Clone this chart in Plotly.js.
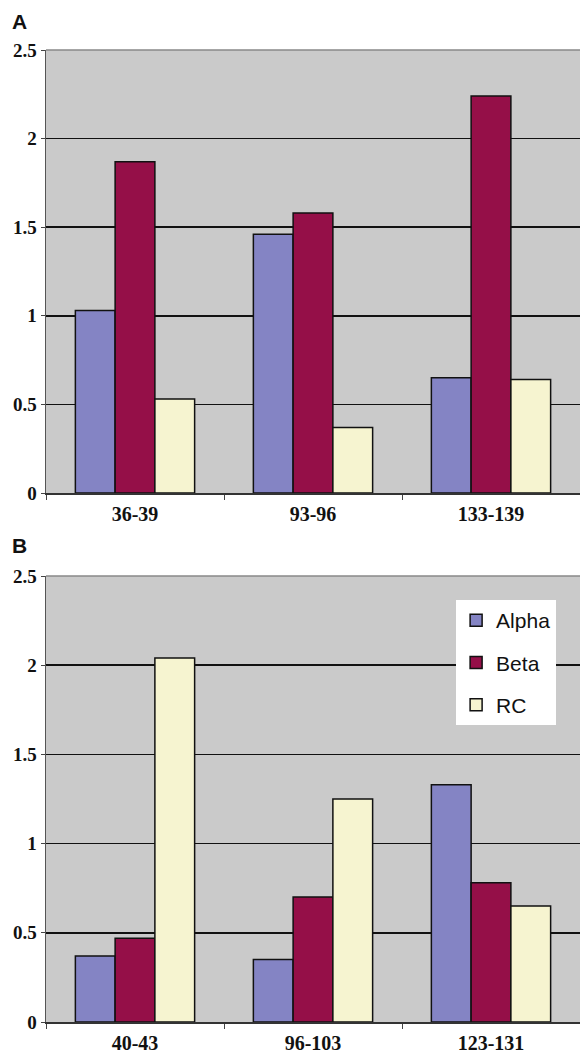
<!DOCTYPE html>
<html>
<head>
<meta charset="utf-8">
<script src="https://cdn.plot.ly/plotly-3.0.1.min.js"></script>
<style>html,body{margin:0;padding:0;background:#fff;}#chart{width:580px;height:1055px;}</style>
</head>
<body>
<div id="chart"></div>
<script>
const seriesNames = ["Alpha", "Beta", "RC"];
const seriesColors = ["#8484c4", "#950f48", "#f6f4d0"];

const categoriesA = ["36-39", "93-96", "133-139"];
const alphaA = [1.03, 1.46, 0.65];
const betaA = [1.87, 1.58, 2.24];
const rcA = [0.53, 0.37, 0.64];

const categoriesB = ["40-43", "96-103", "123-131"];
const alphaB = [0.37, 0.35, 1.33];
const betaB = [0.47, 0.70, 0.78];
const rcB = [2.04, 1.25, 0.65];

const yTickVals = [0, 0.5, 1, 1.5, 2, 2.5];
const yTickText = ["0", "0.5", "1", "1.5", "2", "2.5"];

const valsA = [alphaA, betaA, rcA];
const valsB = [alphaB, betaB, rcB];

const traces = [];
valsA.forEach((v, i) => traces.push({
  type: "bar", x: categoriesA, y: v, name: seriesNames[i],
  xaxis: "x", yaxis: "y", showlegend: false,
  marker: {color: seriesColors[i], line: {color: "#111", width: 1.5}},
  hoverinfo: "none"
}));
valsB.forEach((v, i) => traces.push({
  type: "bar", x: categoriesB, y: v, name: seriesNames[i],
  xaxis: "x2", yaxis: "y2", showlegend: true, legendgroup: "g" + i,
  marker: {color: seriesColors[i], line: {color: "#111", width: 1.5}},
  hoverinfo: "none"
}));

const yTickFont = {family: "Liberation Serif, Times New Roman, serif", size: 19, color: "#111", weight: "bold"};
const xTickFont = {family: "Liberation Serif, Times New Roman, serif", size: 20, color: "#111", weight: "bold"};

function xAxis(anchor) {
  return {
    anchor: anchor, domain: [0, 1], type: "category",
    tickson: "boundaries", ticks: "outside", ticklen: 5, tickcolor: "#444",
    showgrid: false, showline: true, linecolor: "#333", linewidth: 1.5,
    tickfont: xTickFont, ticklabelstandoff: 2, zeroline: false, fixedrange: true
  };
}
function yAxis(anchor, domain) {
  return {
    anchor: anchor, domain: domain, range: [0, 2.5],
    tickvals: yTickVals, ticktext: yTickText,
    ticks: "outside", ticklen: 4, tickcolor: "#444",
    showgrid: true, gridcolor: "#111", gridwidth: 1.5,
    showline: true, linecolor: "#555", linewidth: 1.5, mirror: false,
    zeroline: false, tickfont: yTickFont, fixedrange: true
  };
}

const layout = {
  width: 580, height: 1055,
  margin: {l: 46, r: 0, t: 0, b: 0},
  paper_bgcolor: "#ffffff",
  plot_bgcolor: "#cacaca",
  barmode: "group", bargap: 0.33, bargroupgap: 0,
  xaxis: xAxis("y"),
  yaxis: yAxis("x", [1 - 493/1055, 1 - 50/1055]),
  xaxis2: xAxis("y2"),
  yaxis2: yAxis("x2", [1 - 1022/1055, 1 - 576/1055]),
  showlegend: true,
  legend: {
    x: 0.768, y: 1 - 600/1055, xanchor: "left", yanchor: "top",
    bgcolor: "#ffffff", borderwidth: 0,
    font: {family: "Liberation Sans, Arial, sans-serif", size: 21, color: "#111"},
    traceorder: "grouped", tracegroupgap: 12, itemwidth: 30
  },
  shapes: [
    {type: "line", xref: "paper", yref: "paper", x0: 0, x1: 1, y0: 1 - 50/1055, y1: 1 - 50/1055, line: {color: "#888", width: 1.5}},
    {type: "line", xref: "paper", yref: "paper", x0: 0, x1: 1, y0: 1 - 576/1055, y1: 1 - 576/1055, line: {color: "#888", width: 1.5}}
  ],
  annotations: [
    {text: "<b>A</b>", xref: "paper", yref: "paper", x: -46/534 + 10/534, y: 1 - 8/1055, xanchor: "left", yanchor: "top", showarrow: false,
     font: {family: "Liberation Sans, Arial, sans-serif", size: 21, color: "#111"}},
    {text: "<b>B</b>", xref: "paper", yref: "paper", x: -46/534 + 10/534, y: 1 - 532/1055, xanchor: "left", yanchor: "top", showarrow: false,
     font: {family: "Liberation Sans, Arial, sans-serif", size: 21, color: "#111"}}
  ]
};

Plotly.newPlot("chart", traces, layout, {displayModeBar: false, staticPlot: true});
</script>
</body>
</html>
